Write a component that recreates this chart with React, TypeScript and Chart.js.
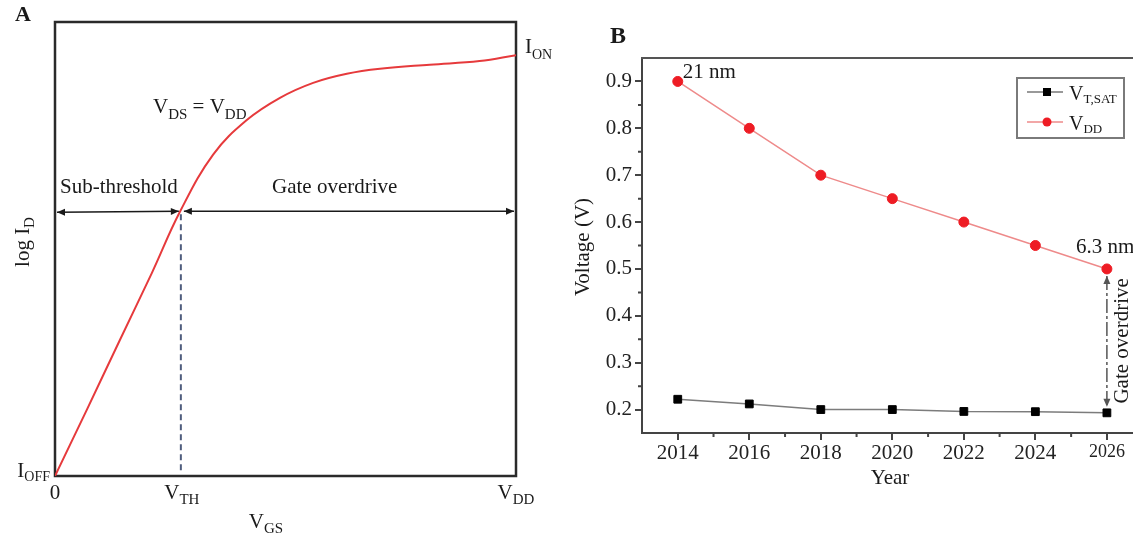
import React, { useEffect, useRef } from 'react';
import { Chart, registerables } from 'chart.js';

Chart.register(...registerables);

const FONT = "'Liberation Serif', 'Times New Roman', serif";

// ---------- Panel A data (schematic transfer curve, normalised units) ----------
const vgs = [0, 0.07, 0.14, 0.21, 0.271, 0.343, 0.416, 0.488, 0.56, 0.633, 0.705, 0.813, 0.921, 1.0];
const logId = [0, 0.148, 0.298, 0.447, 0.582, 0.708, 0.784, 0.833, 0.866, 0.886, 0.897, 0.906, 0.914, 0.927];
const vthPos = 0.273;
const thresholdLevel = 0.583;

// ---------- Panel B data ----------
const years = [2014, 2016, 2018, 2020, 2022, 2024, 2026];
const vtSat = [0.222, 0.212, 0.2, 0.2, 0.196, 0.1955, 0.193];
const vdd = [0.9, 0.8, 0.7, 0.65, 0.6, 0.55, 0.5];
const yearTicks = [2014, 2016, 2018, 2020, 2022, 2024, 2026];
const yearMinor = [2015, 2017, 2019, 2021, 2023, 2025];
const voltTicks = [0.2, 0.3, 0.4, 0.5, 0.6, 0.7, 0.8, 0.9];
const voltMinor = [0.25, 0.35, 0.45, 0.55, 0.65, 0.75, 0.85];

type Part = { t: string; sub?: boolean };

function setFont(ctx: CanvasRenderingContext2D, size: number, bold = false) {
  ctx.font = `${bold ? 'bold ' : ''}${size}px ${FONT}`;
}

function richWidth(ctx: CanvasRenderingContext2D, parts: Part[], size: number, subSize: number) {
  let w = 0;
  for (const p of parts) {
    setFont(ctx, p.sub ? subSize : size);
    w += ctx.measureText(p.t).width;
  }
  return w;
}

function drawRich(
  ctx: CanvasRenderingContext2D,
  parts: Part[],
  x: number,
  y: number,
  o: { size?: number; subSize?: number; subDy?: number; align?: string; color?: string; bold?: boolean } = {}
) {
  const size = o.size ?? 21;
  const subSize = o.subSize ?? 15;
  const subDy = o.subDy ?? 6;
  const w = richWidth(ctx, parts, size, subSize);
  let cx = o.align === 'center' ? x - w / 2 : o.align === 'right' ? x - w : x;
  ctx.save();
  ctx.textAlign = 'left';
  ctx.textBaseline = 'alphabetic';
  ctx.fillStyle = o.color ?? '#1a1a1a';
  for (const p of parts) {
    setFont(ctx, p.sub ? subSize : size, !!o.bold && !p.sub);
    ctx.fillText(p.t, cx, p.sub ? y + subDy : y);
    cx += ctx.measureText(p.t).width;
  }
  ctx.restore();
}

function drawRotated(ctx: CanvasRenderingContext2D, parts: Part[], x: number, y: number, o: any = {}) {
  ctx.save();
  ctx.translate(x, y);
  ctx.rotate(-Math.PI / 2);
  drawRich(ctx, parts, 0, 0, { align: 'center', ...o });
  ctx.restore();
}

function arrowHead(ctx: CanvasRenderingContext2D, x: number, y: number, angle: number, len = 8, half = 3.5) {
  ctx.save();
  ctx.translate(x, y);
  ctx.rotate(angle);
  ctx.beginPath();
  ctx.moveTo(0, 0);
  ctx.lineTo(-len, -half);
  ctx.lineTo(-len, half);
  ctx.closePath();
  ctx.fill();
  ctx.restore();
}

function doubleArrow(ctx: CanvasRenderingContext2D, x1: number, y1: number, x2: number, y2: number, color: string, dash: number[] = []) {
  const ang = Math.atan2(y2 - y1, x2 - x1);
  ctx.save();
  ctx.strokeStyle = color;
  ctx.fillStyle = color;
  ctx.lineWidth = 1.5;
  ctx.setLineDash(dash);
  ctx.beginPath();
  ctx.moveTo(x1, y1);
  ctx.lineTo(x2, y2);
  ctx.stroke();
  ctx.setLineDash([]);
  arrowHead(ctx, x2, y2, ang);
  arrowHead(ctx, x1, y1, ang + Math.PI);
  ctx.restore();
}

function PanelA() {
  const ref = useRef<HTMLCanvasElement | null>(null);
  useEffect(() => {
    if (!ref.current) return;
    const plugin = {
      id: 'panelA',
      beforeDatasetsDraw(chart: any) {
        const { ctx, chartArea: a, scales } = chart;
        const xs = scales.x, ys = scales.y;
        ctx.save();
        // dashed threshold line
        ctx.strokeStyle = '#4f5d7e';
        ctx.lineWidth = 2;
        ctx.setLineDash([6, 4]);
        ctx.beginPath();
        ctx.moveTo(xs.getPixelForValue(vthPos), ys.getPixelForValue(thresholdLevel) + 3);
        ctx.lineTo(xs.getPixelForValue(vthPos), a.bottom - 2);
        ctx.stroke();
        ctx.setLineDash([]);
        // frame
        ctx.strokeStyle = '#2a2a2a';
        ctx.lineWidth = 2.5;
        ctx.strokeRect(a.left, a.top, a.right - a.left, a.bottom - a.top);
        ctx.restore();
      },
      afterDraw(chart: any) {
        const { ctx, chartArea: a, scales } = chart;
        const xs = scales.x, ys = scales.y;
        const xv = xs.getPixelForValue(vthPos);
        const yv = ys.getPixelForValue(thresholdLevel);
        doubleArrow(ctx, a.left + 2, yv + 1, xv - 2, yv, '#1a1a1a');
        doubleArrow(ctx, xv + 3, yv, a.right - 2, yv, '#1a1a1a');

        drawRich(ctx, [{ t: 'A' }], 15, 21, { bold: true, size: 22 });
        drawRich(ctx, [{ t: 'V' }, { t: 'DS', sub: true }, { t: ' = V' }, { t: 'DD', sub: true }], 153, 113);
        drawRich(ctx, [{ t: 'Sub-threshold' }], 60, 193);
        drawRich(ctx, [{ t: 'Gate overdrive' }], 272, 193);
        drawRich(ctx, [{ t: 'I' }, { t: 'ON', sub: true }], a.right + 9, ys.getPixelForValue(logId[logId.length - 1]) - 2, { subSize: 14 });
        drawRich(ctx, [{ t: 'I' }, { t: 'OFF', sub: true }], a.left - 5, a.bottom + 1, { align: 'right', subSize: 14, subDy: 4 });
        const by = a.bottom + 23;
        drawRich(ctx, [{ t: '0' }], xs.getPixelForValue(0), by, { align: 'center' });
        drawRich(ctx, [{ t: 'V' }, { t: 'TH', sub: true }], xv + 1, by, { align: 'center', subDy: 5 });
        drawRich(ctx, [{ t: 'V' }, { t: 'DD', sub: true }], a.right, by, { align: 'center', subDy: 5 });
        drawRich(ctx, [{ t: 'V' }, { t: 'GS', sub: true }], 266, 528, { align: 'center', subDy: 5 });
        drawRotated(ctx, [{ t: 'log I' }, { t: 'D', sub: true }], 29, 242, { subDy: 5 });
      },
    };
    const chart = new Chart(ref.current, {
      type: 'line',
      data: {
        datasets: [
          {
            data: vgs.map((x, i) => ({ x, y: logId[i] })),
            borderColor: '#e63a3c',
            borderWidth: 2,
            pointRadius: 0,
            tension: 0.4,
            fill: false,
          },
        ],
      },
      options: {
        animation: false,
        responsive: false,
        devicePixelRatio: 1,
        layout: { autoPadding: false, padding: { left: 55, top: 22, right: 44, bottom: 65 } },
        scales: {
          x: { type: 'linear', min: 0, max: 1, display: false },
          y: { type: 'linear', min: 0, max: 1, display: false },
        },
        plugins: { legend: { display: false }, tooltip: { enabled: false } },
      },
      plugins: [plugin],
    } as any);
    return () => chart.destroy();
  }, []);
  return <canvas ref={ref} width={560} height={541} style={{ position: 'absolute', left: 0, top: 0 }} />;
}

function PanelB() {
  const ref = useRef<HTMLCanvasElement | null>(null);
  useEffect(() => {
    if (!ref.current) return;
    const axisColor = '#444';
    const plugin = {
      id: 'panelB',
      afterDraw(chart: any) {
        const { ctx, chartArea: a, scales, width } = chart;
        const xs = scales.x, ys = scales.y;
        ctx.save();
        // top frame line
        ctx.strokeStyle = '#555';
        ctx.lineWidth = 2;
        ctx.beginPath();
        ctx.moveTo(a.left - 1, a.top);
        ctx.lineTo(width, a.top);
        ctx.stroke();
        // minor ticks
        ctx.strokeStyle = axisColor;
        ctx.lineWidth = 2;
        ctx.beginPath();
        for (const v of voltMinor) {
          const y = ys.getPixelForValue(v);
          ctx.moveTo(a.left, y);
          ctx.lineTo(a.left - 4, y);
        }
        for (const v of yearMinor) {
          const x = xs.getPixelForValue(v);
          ctx.moveTo(x, a.bottom);
          ctx.lineTo(x, a.bottom + 4);
        }
        ctx.stroke();
        ctx.restore();

        // titles
        drawRich(ctx, [{ t: 'B' }], 50, 43, { bold: true, size: 24 });
        drawRotated(ctx, [{ t: 'Voltage (V)' }], 29, 247, { size: 21 });
        drawRich(ctx, [{ t: 'Year' }], 330, 484, { align: 'center' });

        // annotations
        const p0x = xs.getPixelForValue(years[0]);
        const p0y = ys.getPixelForValue(vdd[0]);
        drawRich(ctx, [{ t: '21 nm' }], p0x + 5, p0y - 3);
        const n = years.length - 1;
        const pnx = xs.getPixelForValue(years[n]);
        const pny = ys.getPixelForValue(vdd[n]);
        const pby = ys.getPixelForValue(vtSat[n]);
        drawRich(ctx, [{ t: '6.3 nm' }], pnx - 31, pny - 16);
        doubleArrow(ctx, pnx, pny + 7, pnx, pby - 6, '#555', [14, 3, 3, 3]);
        drawRotated(ctx, [{ t: 'Gate overdrive' }], pnx + 21, (pny + pby) / 2, {});

        // legend
        const lx = 1017 - 560, ly = 78, lw = 107, lh = 60;
        ctx.save();
        ctx.fillStyle = '#fff';
        ctx.fillRect(lx, ly, lw, lh);
        ctx.strokeStyle = '#7a7a7a';
        ctx.lineWidth = 2;
        ctx.strokeRect(lx, ly, lw, lh);
        const rows = [
          { y: 92, line: '#777', fill: '#000', rect: true, parts: [{ t: 'V' }, { t: 'T,SAT', sub: true }] },
          { y: 122, line: '#ee8a8a', fill: '#ee1c24', rect: false, parts: [{ t: 'V' }, { t: 'DD', sub: true }] },
        ];
        for (const r of rows) {
          ctx.strokeStyle = r.line;
          ctx.lineWidth = 1.5;
          ctx.beginPath();
          ctx.moveTo(lx + 10, r.y);
          ctx.lineTo(lx + 46, r.y);
          ctx.stroke();
          ctx.fillStyle = r.fill;
          if (r.rect) {
            ctx.fillRect(lx + 26, r.y - 4, 8, 8);
          } else {
            ctx.beginPath();
            ctx.arc(lx + 30, r.y, 4.5, 0, Math.PI * 2);
            ctx.fill();
          }
          drawRich(ctx, r.parts as Part[], lx + 52, r.y + 8, { size: 20, subSize: 13, subDy: 3 });
        }
        ctx.restore();
      },
    };
    const tickFont = (c: any) => ({ family: FONT, size: c.tick && c.tick.value === 2026 ? 18 : 21 });
    const chart = new Chart(ref.current, {
      type: 'line',
      data: {
        datasets: [
          {
            label: 'VT,SAT',
            data: years.map((x, i) => ({ x, y: vtSat[i] })),
            borderColor: '#7c7c7c',
            borderWidth: 1.5,
            pointStyle: 'rect',
            pointRadius: 5.5,
            pointBackgroundColor: '#000',
            pointBorderColor: '#000',
            pointBorderWidth: 1,
            tension: 0,
          },
          {
            label: 'VDD',
            data: years.map((x, i) => ({ x, y: vdd[i] })),
            borderColor: '#ee8a8a',
            borderWidth: 1.5,
            pointStyle: 'circle',
            pointRadius: 5,
            pointBackgroundColor: '#ee1c24',
            pointBorderColor: '#ee1c24',
            pointBorderWidth: 1,
            tension: 0,
          },
        ],
      },
      options: {
        animation: false,
        responsive: false,
        devicePixelRatio: 1,
        layout: { autoPadding: false, padding: { left: 0, top: 58, right: 0, bottom: 0 } },
        scales: {
          x: {
            type: 'linear',
            min: 2013,
            max: 2026.73,
            afterBuildTicks: (s: any) => {
              s.ticks = yearTicks.map((value) => ({ value }));
            },
            afterFit: (s: any) => {
              s.height = 108;
              s.paddingLeft = 0;
              s.paddingRight = 0;
            },
            grid: { drawOnChartArea: false, drawTicks: true, tickLength: 7, color: axisColor, lineWidth: 2 },
            border: { display: true, color: axisColor, width: 2 },
            ticks: {
              font: tickFont,
              color: '#222',
              padding: 1,
              maxRotation: 0,
              autoSkip: false,
              callback: (v: any) => String(v),
            },
          },
          y: {
            type: 'linear',
            min: 0.15,
            max: 0.95,
            afterBuildTicks: (s: any) => {
              s.ticks = voltTicks.map((value) => ({ value }));
            },
            afterFit: (s: any) => {
              s.width = 82;
              s.paddingTop = 0;
              s.paddingBottom = 0;
            },
            grid: { drawOnChartArea: false, drawTicks: true, tickLength: 7, color: axisColor, lineWidth: 2 },
            border: { display: true, color: axisColor, width: 2 },
            ticks: {
              font: { family: FONT, size: 21 },
              color: '#222',
              padding: 3,
              autoSkip: false,
              callback: (v: any) => Number(v).toFixed(1),
            },
          },
        },
        plugins: { legend: { display: false }, tooltip: { enabled: false } },
      },
      plugins: [plugin],
    } as any);
    return () => chart.destroy();
  }, []);
  return <canvas ref={ref} width={573} height={541} style={{ position: 'absolute', left: 560, top: 0 }} />;
}

export default function App() {
  return (
    <div style={{ position: 'absolute', left: 0, top: 0, width: 1133, height: 541, background: '#fff', overflow: 'hidden' }}>
      <PanelA />
      <PanelB />
    </div>
  );
}
